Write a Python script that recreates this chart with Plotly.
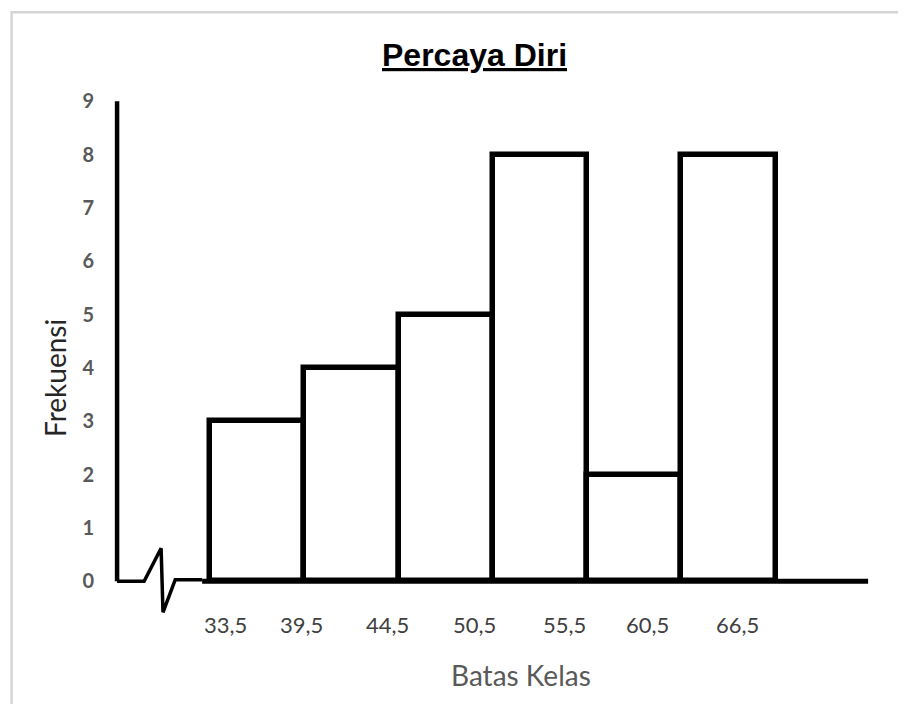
import plotly.graph_objects as go

# ---- data ----
title_text = "Percaya Diri"
x_title = "Batas Kelas"
y_title = "Frekuensi"
class_index = [0, 1, 2, 3, 4, 5]          # histogram bins (unit width)
frequencies = [3, 4, 5, 8, 2, 8]
boundary_labels = ["33,5", "39,5", "44,5", "50,5", "55,5", "60,5", "66,5"]
label_offsets = [0.16, 0.965, 1.88, 2.80, 3.755, 4.636, 5.59]   # where the labels sit along the axis
y_ticks = list(range(0, 10))
break_x = [-0.987, -0.70, -0.52, -0.50, -0.37, -0.085]   # axis-break zigzag
break_y = [0, 0, 0.62, -0.58, 0.03, 0.03]

AX_LEFT = -0.987
AX_RIGHT = 6.98

fig = go.Figure()

fig.add_trace(go.Bar(
    x=[i + 0.5 for i in class_index],
    y=frequencies,
    width=1,
    marker=dict(color="white", line=dict(color="black", width=5.5)),
    hoverinfo="y",
))

fig.add_trace(go.Scatter(
    x=break_x, y=break_y, mode="lines",
    line=dict(color="black", width=3.5),
    hoverinfo="skip",
))

shapes = [
    # y axis line
    dict(type="line", xref="x", yref="y", x0=AX_LEFT, x1=AX_LEFT, y0=0, y1=9,
         line=dict(color="black", width=4.5), layer="above"),
    # baseline
    dict(type="line", xref="x", yref="y", x0=-0.085, x1=AX_RIGHT, y0=0, y1=0,
         line=dict(color="black", width=5), layer="above"),
    # outer border
    dict(type="rect", xref="paper", yref="paper", x0=-0.1105, x1=1.2, y0=-0.3, y1=1.1585,
         line=dict(color="#d6d6d6", width=2.5), fillcolor="rgba(0,0,0,0)", layer="below"),
]

annotations = []
for lab, pos in zip(boundary_labels, label_offsets):
    annotations.append(dict(
        x=pos, y=0, xref="x", yref="y", text=lab, showarrow=False,
        yanchor="middle", xanchor="center", yshift=-43,
        font=dict(family="Lato, Calibri, sans-serif", size=22, color="#404040"),
    ))

annotations.append(dict(
    x=0.489, y=1.0777, xref="paper", yref="paper", text=title_text, showarrow=False,
    xanchor="center", yanchor="middle",
    font=dict(family="Liberation Sans", size=32, color="black",
              weight="bold", lineposition="under"),
))
annotations.append(dict(
    x=0.5485, y=-0.0966, xref="paper", yref="paper", text=x_title, showarrow=False,
    xanchor="center", yanchor="middle",
    font=dict(family="Lato, Calibri, sans-serif", size=28, color="#595959"),
))
annotations.append(dict(
    x=-0.0543, y=0.466, xref="paper", yref="paper", text=y_title, showarrow=False,
    xanchor="center", yanchor="middle", textangle=-90,
    font=dict(family="Lato, Calibri, sans-serif", size=28, color="#262626"),
))

fig.update_layout(
    width=906, height=704,
    margin=dict(l=89, r=44, t=88, b=88),
    paper_bgcolor="white", plot_bgcolor="white",
    showlegend=False,
    bargap=0,
    shapes=shapes,
    annotations=annotations,
    xaxis=dict(range=[-1.2, 7.0], showgrid=False, zeroline=False, showline=False,
               showticklabels=False, ticks=""),
    yaxis=dict(range=[-0.8, 9.1], showgrid=False, zeroline=False, showline=False,
               tickvals=y_ticks, ticks="", ticklabelstandoff=2,
               tickfont=dict(family="Lato, Calibri, sans-serif", size=20, color="#595959",
                             weight="bold")),
)

fig.write_html("out.html")
